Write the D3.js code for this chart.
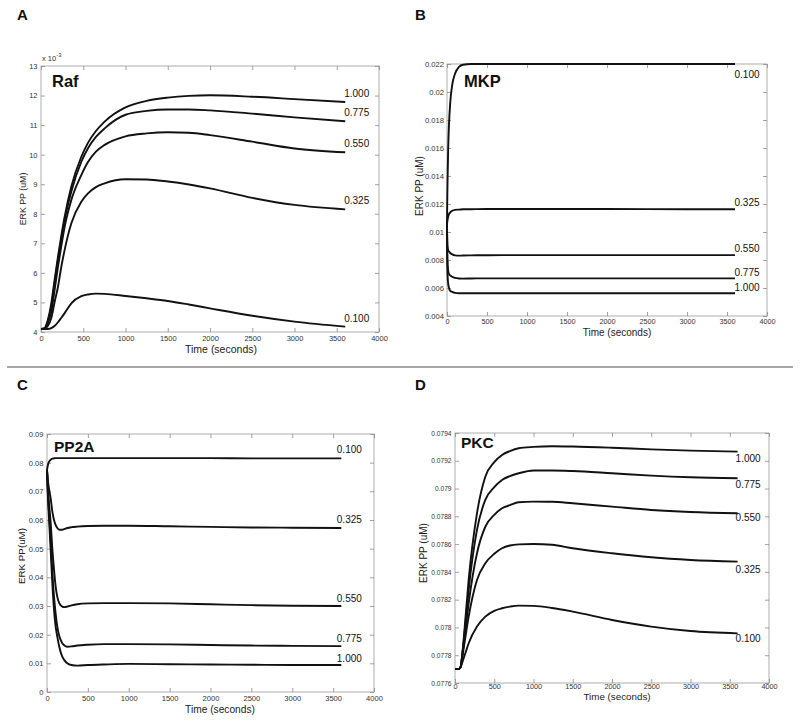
<!DOCTYPE html>
<html>
<head>
<meta charset="utf-8">
<script src="https://cdn.jsdelivr.net/npm/d3@7"></script>
<style>
  html, body { margin: 0; padding: 0; background: #fff; }
  svg { display: block; font-family: "Liberation Sans", Arial, Helvetica, sans-serif; }
</style>
</head>
<body>
<svg id="chart" width="800" height="721"></svg>
<script>
// ---------------- DATA ----------------
const seriesNames = ["1.000", "0.775", "0.550", "0.325", "0.100"];
const xTicks = [0, 500, 1000, 1500, 2000, 2500, 3000, 3500, 4000];

// Panel A: Raf (values in units of 1e-3 uM)
const timeA = [0, 40, 80, 122, 160, 201, 240, 280, 359, 477, 556, 650, 753, 1000, 1250, 1500, 1750, 2000, 2500, 3000, 3600];
const rafA_1000 = [4.1, 4.12, 4.4, 4.97, 5.75, 6.55, 7.25, 7.9, 8.92, 9.93, 10.4, 10.8, 11.12, 11.6, 11.82, 11.93, 11.99, 12.01, 11.96, 11.88, 11.78];
const rafA_0775 = [4.1, 4.12, 4.35, 4.86, 5.62, 6.44, 7.13, 7.79, 8.75, 9.76, 10.22, 10.6, 10.89, 11.35, 11.48, 11.53, 11.53, 11.5, 11.39, 11.26, 11.13];
const rafA_0550 = [4.1, 4.11, 4.3, 4.69, 5.4, 6.21, 6.9, 7.56, 8.47, 9.31, 9.75, 10.1, 10.33, 10.62, 10.72, 10.76, 10.74, 10.66, 10.44, 10.21, 10.08];
const rafA_0325 = [4.1, 4.1, 4.2, 4.47, 5.0, 5.53, 6.2, 6.78, 7.68, 8.41, 8.69, 8.9, 9.03, 9.17, 9.16, 9.09, 8.99, 8.86, 8.54, 8.3, 8.15];
const rafA_0100 = [4.1, 4.1, 4.1, 4.13, 4.2, 4.33, 4.48, 4.64, 4.97, 5.21, 5.27, 5.3, 5.29, 5.22, 5.14, 5.05, 4.93, 4.8, 4.55, 4.35, 4.18];
const yTicksA = [4, 5, 6, 7, 8, 9, 10, 11, 12, 13];

// Panel B: MKP
const timeB = [0, 3, 8, 15, 25, 40, 65, 100, 150, 200, 300, 500, 1000, 2000, 3000, 3600];
const mkpB_1000 = [0.0105, 0.0080, 0.0068, 0.0063, 0.0060, 0.0058, 0.00572, 0.00565, 0.00562, 0.00562, 0.00563, 0.00563, 0.00563, 0.00563, 0.00563, 0.00563];
const mkpB_0775 = [0.0105, 0.0086, 0.0077, 0.0072, 0.0070, 0.0069, 0.0068, 0.00672, 0.00668, 0.00667, 0.00668, 0.00669, 0.00669, 0.00669, 0.00669, 0.00669];
const mkpB_0550 = [0.0105, 0.0094, 0.0089, 0.0087, 0.0086, 0.0085, 0.0084, 0.00833, 0.00831, 0.00832, 0.00833, 0.00834, 0.00835, 0.00835, 0.00835, 0.00835];
const mkpB_0325 = [0.0105, 0.0107, 0.0109, 0.0111, 0.01128, 0.0114, 0.01152, 0.01158, 0.0116, 0.01162, 0.01163, 0.01164, 0.01164, 0.01164, 0.01163, 0.01163];
const mkpB_0100 = [0.0105, 0.0122, 0.0140, 0.0160, 0.0177, 0.0192, 0.0205, 0.0213, 0.0218, 0.02195, 0.0220, 0.0220, 0.0220, 0.0220, 0.0220, 0.0220];
const yTicksB = [0.004, 0.006, 0.008, 0.010, 0.012, 0.014, 0.016, 0.018, 0.020, 0.022];

// Panel C: PP2A
const timeC = [0, 10, 24, 45, 65, 86, 105, 126, 150, 187, 210, 248, 300, 370, 500, 700, 1000, 1500, 2000, 2500, 3000, 3600];
const pp2aC_1000 = [0.0775, 0.069, 0.061, 0.0495, 0.038, 0.0286, 0.023, 0.0193, 0.0158, 0.0123, 0.0112, 0.0100, 0.0094, 0.0092, 0.0094, 0.0096, 0.0098, 0.0097, 0.0096, 0.0095, 0.0094, 0.0094];
const pp2aC_0775 = [0.0775, 0.070, 0.063, 0.053, 0.042, 0.0332, 0.0275, 0.0228, 0.0195, 0.0170, 0.0163, 0.0158, 0.0159, 0.0162, 0.0165, 0.0167, 0.0167, 0.0166, 0.0164, 0.0162, 0.0161, 0.0160];
const pp2aC_0550 = [0.0775, 0.072, 0.066, 0.059, 0.050, 0.0426, 0.037, 0.0332, 0.031, 0.0298, 0.0296, 0.0298, 0.0302, 0.0306, 0.0309, 0.031, 0.031, 0.0309, 0.0306, 0.0303, 0.0301, 0.0300];
const pp2aC_0325 = [0.0775, 0.074, 0.071, 0.0675, 0.063, 0.0600, 0.0583, 0.0572, 0.0566, 0.0566, 0.0568, 0.0572, 0.0575, 0.0577, 0.0579, 0.0580, 0.0580, 0.0578, 0.0576, 0.0574, 0.0573, 0.0572];
const pp2aC_0100 = [0.0775, 0.0790, 0.0803, 0.0810, 0.0814, 0.0815, 0.0816, 0.0816, 0.0816, 0.0816, 0.0816, 0.0816, 0.0816, 0.0816, 0.0816, 0.0816, 0.0816, 0.0816, 0.0816, 0.0815, 0.0815, 0.0815];
const yTicksC = [0, 0.01, 0.02, 0.03, 0.04, 0.05, 0.06, 0.07, 0.08, 0.09];

// Panel D: PKC
const timeD = [0, 40, 68, 100, 135, 174, 280, 386, 500, 599, 700, 811, 1000, 1236, 1500, 2000, 2500, 3000, 3600];
const pkcD_1000 = [0.07770, 0.07770, 0.07771, 0.07785, 0.07808, 0.078342, 0.078822, 0.079085, 0.07919, 0.079242, 0.07927, 0.07929, 0.0793, 0.079305, 0.079303, 0.079294, 0.079282, 0.079273, 0.079266];
const pkcD_0775 = [0.07770, 0.07770, 0.07771, 0.07784, 0.07804, 0.07827, 0.078702, 0.078918, 0.07901, 0.079062, 0.07909, 0.07911, 0.07913, 0.07913, 0.079126, 0.07911, 0.079093, 0.079081, 0.079074];
const pkcD_0550 = [0.07770, 0.07770, 0.07771, 0.07783, 0.07799, 0.078174, 0.078534, 0.078725, 0.07881, 0.078858, 0.07888, 0.078901, 0.078906, 0.078905, 0.078894, 0.07887, 0.078846, 0.078831, 0.078822];
const pkcD_0325 = [0.07770, 0.07770, 0.07771, 0.07781, 0.07794, 0.078078, 0.078342, 0.078462, 0.07853, 0.07857, 0.07859, 0.078598, 0.078601, 0.078595, 0.07857, 0.078534, 0.078505, 0.078486, 0.078474];
const pkcD_0100 = [0.07770, 0.07770, 0.07771, 0.07776, 0.07782, 0.077886, 0.078006, 0.078078, 0.07812, 0.078138, 0.07815, 0.078157, 0.078155, 0.07814, 0.078114, 0.078054, 0.078006, 0.077974, 0.077957];
const yTicksD = [0.0776, 0.0778, 0.0780, 0.0782, 0.0784, 0.0786, 0.0788, 0.0790, 0.0792, 0.0794];

// ---------------- LAYOUT ----------------
const panels = [
  { letter: "A", lx: 17, ly: 20, title: "Raf", tx: 52, ty: 87, tsize: 16.5,
    box: { l: 41, t: 66, r: 379, b: 332 }, yDomain: [4, 13], yTicks: yTicksA,
    time: timeA, series: [rafA_1000, rafA_0775, rafA_0550, rafA_0325, rafA_0100],
    labDx: -1, labDy: [-5.5, -5.5, -5.5, -5.5, -5],
    xTickFont: 7.5, yTickFont: 7.5, xPad: 3.5, yPad: 3.5,
    ylab: "ERK PP (uM)", ylabSize: 8.8, ylx: 23, yly: 199,
    xlabSize: 10.5, xlx: 221, xly: 353, exponent: true },
  { letter: "B", lx: 415, ly: 20, title: "MKP", tx: 464, ty: 87, tsize: 16.5,
    box: { l: 447, t: 64, r: 767, b: 316 }, yDomain: [0.004, 0.022], yTicks: yTicksB,
    time: timeB, series: [mkpB_1000, mkpB_0775, mkpB_0550, mkpB_0325, mkpB_0100],
    labDx: -0.5, labDy: [-2.5, -2.8, -3, -3.5, 14],
    xTickFont: 7.3, yTickFont: 7.6, xPad: 2.5, yPad: 3,
    ylab: "ERK PP (uM)", ylabSize: 10, ylx: 419, yly: 186,
    xlabSize: 10, xlx: 617, xly: 335.5 },
  { letter: "C", lx: 17, ly: 390, title: "PP2A", tx: 54, ty: 452, tsize: 15.5,
    box: { l: 47, t: 434, r: 374, b: 692 }, yDomain: [0, 0.09], yTicks: yTicksC,
    time: timeC, series: [pp2aC_1000, pp2aC_0775, pp2aC_0550, pp2aC_0325, pp2aC_0100],
    labDx: -4.5, labDy: [-3.5, -4.5, -4, -5.3, -5.6],
    xTickFont: 7.6, yTickFont: 7.6, xPad: 3.5, yPad: 3.5,
    ylab: "ERK PP(uM)", ylabSize: 9.8, ylx: 22, yly: 556,
    xlabSize: 10.2, xlx: 220, xly: 713 },
  { letter: "D", lx: 415, ly: 390, title: "PKC", tx: 461, ty: 448, tsize: 15.5,
    box: { l: 455, t: 433, r: 769, b: 683 }, yDomain: [0.0776, 0.0794], yTicks: yTicksD,
    time: timeD, series: [pkcD_1000, pkcD_0775, pkcD_0550, pkcD_0325, pkcD_0100],
    labDx: -2, labDy: [10, 10, 8, 11.5, 8.5],
    xTickFont: 7.3, yTickFont: 6.6, xPad: 1, yPad: 3.5,
    ylab: "ERK PP (uM)", ylabSize: 10, ylx: 423, yly: 553,
    xlabSize: 9.8, xlx: 617, xly: 700 }
];

const svg = d3.select("#chart");

// separator line
svg.append("line")
  .attr("x1", 7).attr("x2", 793).attr("y1", 367).attr("y2", 367)
  .attr("stroke", "#8a8a8a").attr("stroke-width", 1.5);

const fmt = d => String(+d.toFixed(5));

panels.forEach(p => {
  const g = svg.append("g");
  const x = d3.scaleLinear().domain([0, 4000]).range([p.box.l, p.box.r]);
  const y = d3.scaleLinear().domain(p.yDomain).range([p.box.b, p.box.t]);

  // panel letter
  g.append("text").attr("x", p.lx).attr("y", p.ly)
    .attr("font-size", 15).attr("font-weight", "bold").attr("fill", "#111").text(p.letter);

  // box
  g.append("rect").attr("x", p.box.l).attr("y", p.box.t)
    .attr("width", p.box.r - p.box.l).attr("height", p.box.b - p.box.t)
    .attr("fill", "none").attr("stroke", "#9a9a9a").attr("stroke-width", 0.8);

  const styleAxis = size => sel => {
    sel.select(".domain").remove();
    sel.selectAll(".tick line").attr("stroke", "#8a8a8a").attr("stroke-width", 0.8);
    sel.selectAll(".tick text").attr("fill", "#333").attr("font-size", size)
      .attr("font-family", "\"Liberation Sans\", Arial, sans-serif");
  };

  // bottom axis
  g.append("g").attr("transform", `translate(0,${p.box.b})`)
    .call(d3.axisBottom(x).tickValues(xTicks).tickFormat(d3.format("d")).tickSizeInner(-4).tickSizeOuter(0).tickPadding(p.xPad))
    .call(styleAxis(p.xTickFont));
  // top axis (ticks only)
  g.append("g").attr("transform", `translate(0,${p.box.t})`)
    .call(d3.axisTop(x).tickValues(xTicks).tickFormat("").tickSizeInner(-4).tickSizeOuter(0))
    .call(styleAxis(p.xTickFont));
  // left axis
  g.append("g").attr("transform", `translate(${p.box.l},0)`)
    .call(d3.axisLeft(y).tickValues(p.yTicks).tickFormat(fmt).tickSizeInner(-4).tickSizeOuter(0).tickPadding(p.yPad))
    .call(styleAxis(p.yTickFont));
  // right axis (ticks only)
  g.append("g").attr("transform", `translate(${p.box.r},0)`)
    .call(d3.axisRight(y).tickValues(p.yTicks).tickFormat("").tickSizeInner(-4).tickSizeOuter(0))
    .call(styleAxis(p.yTickFont));

  // exponent label
  if (p.exponent) {
    const t = g.append("text").attr("x", p.box.l + 1).attr("y", p.box.t - 5)
      .attr("font-size", 7.5).attr("fill", "#333");
    t.append("tspan").text("x 10");
    t.append("tspan").attr("dy", -4).attr("font-size", 6).text("-3");
  }

  // lines
  const line = d3.line().x(d => x(d[0])).y(d => y(d[1])).curve(d3.curveMonotoneX);
  p.series.forEach((vals, i) => {
    const pts = p.time.map((t, k) => [t, vals[k]]);
    g.append("path").datum(pts).attr("d", line)
      .attr("fill", "none").attr("stroke", "#111").attr("stroke-width", 1.9)
      .attr("stroke-linejoin", "round");
    const last = pts[pts.length - 1];
    g.append("text").attr("x", x(last[0]) + p.labDx).attr("y", y(last[1]) + p.labDy[i])
      .attr("font-size", 10).attr("fill", "#111").text(seriesNames[i]);
  });

  // inner title
  g.append("text").attr("x", p.tx).attr("y", p.ty)
    .attr("font-size", p.tsize).attr("font-weight", "bold").attr("fill", "#111").text(p.title);

  // axis titles
  g.append("text").attr("transform", `translate(${p.ylx},${p.yly}) rotate(-90)`)
    .attr("text-anchor", "middle").attr("dy", "0.35em")
    .attr("font-size", p.ylabSize).attr("fill", "#222").text(p.ylab);
  g.append("text").attr("x", p.xlx).attr("y", p.xly)
    .attr("text-anchor", "middle").attr("font-size", p.xlabSize).attr("fill", "#222").text("Time (seconds)");
});
</script>
</body>
</html>
